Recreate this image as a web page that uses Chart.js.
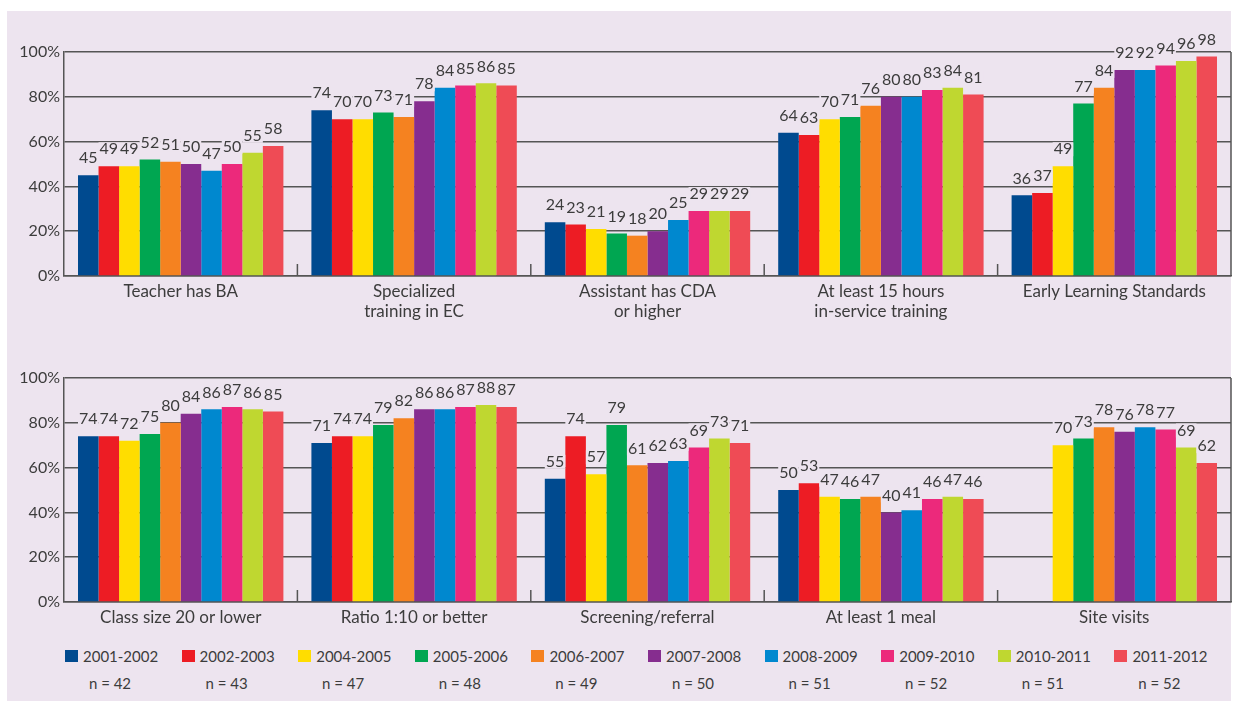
<!DOCTYPE html>
<html lang="en">
<head>
    <meta charset="UTF-8">
    <title>Program Standards Met Over Time</title>
    <script src="https://cdn.jsdelivr.net/npm/chart.js"></script>
    <style>
        body { margin: 0; background: #fff; font-family: Lato, sans-serif; }
        #panel { position: absolute; left: 7px; top: 11px; width: 1224px; height: 690px; background: #ede4ef; }
        .wrap { position: absolute; left: 0; width: 1236px; }
        #topWrap { top: 0; height: 331px; }
        #bottomWrap { top: 330px; height: 304px; }
        #legend { position: absolute; left: 0; top: 645px; width: 1236px; height: 50px; color: #3c3c3c; font-size: 15px; }
        .sw { position: absolute; top: 5px; width: 13px; height: 12px; }
        .yr { position: absolute; top: 0; line-height: 22px; white-space: nowrap; }
        .n { position: absolute; top: 27px; line-height: 22px; white-space: nowrap; transform: translateX(-50%); }
    </style>
</head>
<body>
    <div id="panel"></div>
    <div class="wrap" id="topWrap"><canvas id="topChart"></canvas></div>
    <div class="wrap" id="bottomWrap"><canvas id="bottomChart"></canvas></div>
    <div id="legend"></div>
    <script>
        var years = ['2001-2002', '2002-2003', '2004-2005', '2005-2006', '2006-2007', '2007-2008', '2008-2009', '2009-2010', '2010-2011', '2011-2012'];
        var nValues = [42, 43, 47, 48, 49, 50, 51, 52, 51, 52];
        var colors = ['#004a8f', '#ed1c24', '#ffdd00', '#00a651', '#f58220', '#862d8f', '#0088cf', '#ec297b', '#bfd730', '#ef4b55'];
        var yTicks = [0, 20, 40, 60, 80, 100];

        // top panel
        var topCategories = ['Teacher has BA', ['Specialized', 'training in EC'], ['Assistant has CDA', 'or higher'], ['At least 15 hours', 'in-service training'], 'Early Learning Standards'];
        var teacherBA = [45, 49, 49, 52, 51, 50, 47, 50, 55, 58];
        var specializedEC = [74, 70, 70, 73, 71, 78, 84, 85, 86, 85];
        var assistantCDA = [24, 23, 21, 19, 18, 20, 25, 29, 29, 29];
        var inService15 = [64, 63, 70, 71, 76, 80, 80, 83, 84, 81];
        var earlyLearning = [36, 37, 49, 77, 84, 92, 92, 94, 96, 98];

        // bottom panel
        var bottomCategories = ['Class size 20 or lower', 'Ratio 1:10 or better', 'Screening/referral', 'At least 1 meal', 'Site visits'];
        var classSize = [74, 74, 72, 75, 80, 84, 86, 87, 86, 85];
        var ratio = [71, 74, 74, 79, 82, 86, 86, 87, 88, 87];
        var screening = [55, 74, 57, 79, 61, 62, 63, 69, 73, 71];
        var meal = [50, 53, 47, 46, 47, 40, 41, 46, 47, 46];
        var siteVisits = [null, null, 70, 73, 78, 76, 78, 77, 69, 62];

        var panelBg = '#ede4ef';
        var textColor = '#3c3c3c';
        var lineColor = '#555';

        // one dataset per year, built from the category rows
        function buildDatasets(rows) {
            return years.map(function(yr, i) {
                return {
                    label: yr,
                    data: rows.map(function(r) { return r[i]; }),
                    backgroundColor: colors[i],
                    borderWidth: 0,
                    categoryPercentage: 0.88,
                    barPercentage: 1.0
                };
            });
        }

        var valueLabels = {
            id: 'valueLabels',
            afterDatasetsDraw: function(chart) {
                var ctx = chart.ctx;
                var area = chart.chartArea;
                var xs = chart.scales.x;
                ctx.save();
                // little ticks between the groups, and the right frame line
                ctx.strokeStyle = lineColor;
                ctx.lineWidth = 1.5;
                for (var k = 0; k < chart.data.labels.length - 1; k++) {
                    var bx = (xs.getPixelForValue(k) + xs.getPixelForValue(k + 1)) / 2;
                    ctx.beginPath();
                    ctx.moveTo(bx, area.bottom);
                    ctx.lineTo(bx, area.bottom - 12);
                    ctx.stroke();
                }
                ctx.beginPath();
                ctx.moveTo(area.right, area.top);
                ctx.lineTo(area.right, area.bottom);
                ctx.stroke();

                ctx.font = '16px Lato';
                ctx.textAlign = 'center';
                ctx.textBaseline = 'middle';
                chart.data.datasets.forEach(function(ds, i) {
                    chart.getDatasetMeta(i).data.forEach(function(bar, j) {
                        var v = ds.data[j];
                        if (v === null || v === undefined) return;
                        var y = bar.y - 17;
                        var w = ctx.measureText(String(v)).width;
                        ctx.fillStyle = panelBg;
                        ctx.fillRect(bar.x - w / 2 - 1, y - 7, w + 2, 14);
                        ctx.fillStyle = textColor;
                        ctx.fillText(String(v), bar.x, y);
                    });
                });
                ctx.restore();
            }
        };

        function makeChart(id, labels, rows, padTop, xHeight) {
            var ctx = document.getElementById(id).getContext('2d');
            return new Chart(ctx, {
                type: 'bar',
                data: { labels: labels, datasets: buildDatasets(rows) },
                options: {
                    responsive: true,
                    maintainAspectRatio: false,
                    animation: false,
                    layout: { padding: { top: padTop, right: 5, left: 0, bottom: 0 } },
                    plugins: { legend: { display: false }, tooltip: { enabled: false } },
                    scales: {
                        x: {
                            grid: { display: false, drawTicks: false },
                            border: { display: true, color: lineColor, width: 1.5 },
                            ticks: {
                                color: textColor,
                                font: { family: 'Lato', size: 17, lineHeight: 1.15 },
                                padding: 6,
                                maxRotation: 0,
                                autoSkip: false
                            },
                            afterFit: function(scale) { scale.height = xHeight; }
                        },
                        y: {
                            min: 0,
                            max: 100,
                            afterBuildTicks: function(scale) {
                                scale.ticks = yTicks.map(function(v) { return { value: v }; });
                            },
                            grid: { color: lineColor, lineWidth: 1.5, drawTicks: false },
                            border: { display: true, color: lineColor, width: 1.5 },
                            ticks: {
                                color: textColor,
                                font: { family: 'Lato', size: 16 },
                                padding: 4,
                                callback: function(v) { return v + '%'; }
                            },
                            afterFit: function(scale) { scale.width = 64; }
                        }
                    }
                },
                plugins: [valueLabels]
            });
        }

        makeChart('topChart', topCategories, [teacherBA, specializedEC, assistantCDA, inService15, earlyLearning], 52, 55);
        makeChart('bottomChart', bottomCategories, [classSize, ratio, screening, meal, siteVisits], 48, 32);

        // legend with sample sizes
        var legend = document.getElementById('legend');
        years.forEach(function(yr, i) {
            var left = 65 + i * 116.6;
            var sw = document.createElement('div');
            sw.className = 'sw';
            sw.style.left = left + 'px';
            sw.style.background = colors[i];
            legend.appendChild(sw);
            var t = document.createElement('div');
            t.className = 'yr';
            t.style.left = (left + 18) + 'px';
            t.textContent = yr;
            legend.appendChild(t);
            var n = document.createElement('div');
            n.className = 'n';
            n.style.left = (left + 45) + 'px';
            n.textContent = 'n = ' + nValues[i];
            legend.appendChild(n);
        });
    </script>
</body>
</html>
